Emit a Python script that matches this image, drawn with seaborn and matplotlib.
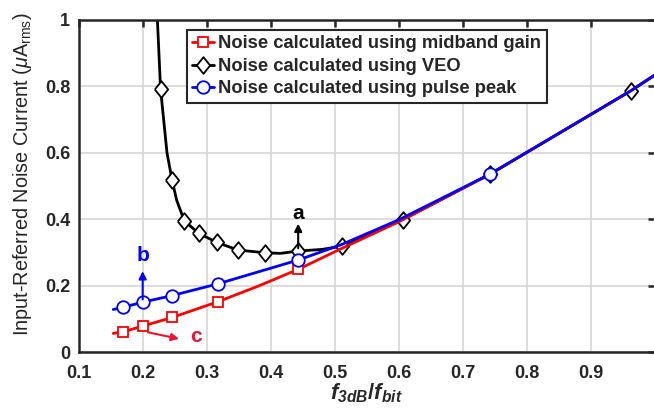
import numpy as np
import pandas as pd
import matplotlib
matplotlib.use('Agg')
import matplotlib.pyplot as plt
import seaborn as sns

# 데이터
red_x = [0.154, 0.170, 0.200, 0.246, 0.317, 0.380, 0.443, 0.510, 0.600, 0.743, 0.963, 1.000]
red_y = [0.056, 0.061, 0.078, 0.104, 0.151, 0.198, 0.249, 0.311, 0.392, 0.536, 0.787, 0.834]
red_mk = [1, 2, 3, 4, 6]

blk_x = [0.223, 0.228, 0.238, 0.246, 0.253, 0.265, 0.288, 0.316, 0.349, 0.391, 0.415, 0.443, 0.480, 0.512, 0.606, 0.743, 0.963, 1.000]
blk_y = [1.000, 0.791, 0.600, 0.517, 0.458, 0.395, 0.357, 0.330, 0.307, 0.299, 0.297, 0.304, 0.309, 0.319, 0.398, 0.536, 0.787, 0.834]
blk_mk = [1, 3, 5, 6, 7, 8, 9, 11, 13, 14, 15, 16]

blu_x = [0.154, 0.170, 0.200, 0.246, 0.317, 0.443, 0.510, 0.600, 0.743, 0.963, 1.000]
blu_y = [0.128, 0.135, 0.150, 0.170, 0.205, 0.277, 0.323, 0.398, 0.536, 0.787, 0.834]
blu_mk = [1, 2, 3, 4, 5, 8]

labels = ['Noise calculated using midband gain',
          'Noise calculated using VEO',
          'Noise calculated using pulse peak']
xticks = [0.1, 0.2, 0.3, 0.4, 0.5, 0.6, 0.7, 0.8, 0.9]
yticks = [0, 0.2, 0.4, 0.6, 0.8, 1]

sns.set_style('white')
plt.rcParams['font.family'] = ['Liberation Sans', 'DejaVu Sans']
plt.rcParams['mathtext.fontset'] = 'custom'
plt.rcParams['mathtext.rm'] = 'Liberation Sans'
plt.rcParams['mathtext.it'] = 'Liberation Sans:italic'
plt.rcParams['mathtext.bf'] = 'Liberation Sans:bold'
plt.rcParams['mathtext.bfit'] = 'Liberation Sans:bold:italic'

fig = plt.figure(figsize=(6.54, 4.19), dpi=100)
ax = fig.add_axes([0.1203, 0.1599, 0.8807, 0.7924])

# 마름모 마커 (가로:세로 = 0.8:1)
diamond = [(-0.8, 0), (0, 1), (0.8, 0), (0, -1), (-0.8, 0)]
series = [(red_x, red_y, red_mk, 'red', 's', 6.5),
          (blk_x, blk_y, blk_mk, 'black', diamond, 12),
          (blu_x, blu_y, blu_mk, 'blue', 'o', 9)]
# 검정 먼저, 빨강, 파랑 순서로 그리기 (파랑이 위)
order = [1, 0, 2]
handles = [None] * 3
for i in order:
    xs, ys, mk, c, m, ms = series[i]
    df = pd.DataFrame({'x': xs, 'y': ys})
    sns.lineplot(data=df, x='x', y='y', ax=ax, color=c, lw=2, sort=False,
                 estimator=None, marker=m, markersize=ms,
                 markevery=mk, markerfacecolor='white', markeredgecolor=c,
                 markeredgewidth=1.3, label=labels[i])
    handles[i] = ax.lines[-1]

ax.set_xlim(0.1, 1.0)
ax.set_ylim(0, 1)
ax.set_xticks(xticks)
ax.set_yticks(yticks)
ax.set_xticklabels(['0.1', '0.2', '0.3', '0.4', '0.5', '0.6', '0.7', '0.8', '0.9'])
ax.set_yticklabels(['0', '0.2', '0.4', '0.6', '0.8', '1'])
ax.grid(True, color='#d9d9d9', lw=1.3)
ax.set_axisbelow(True)
for s in ax.spines.values():
    s.set_color('#262626')
    s.set_linewidth(1.8)
ax.tick_params(direction='in', length=5, width=1.8, color='#262626',
               top=True, right=True, labelsize=13)
ax.tick_params(axis='x', pad=9)
ax.tick_params(axis='y', pad=6)
for t in ax.get_xticklabels() + ax.get_yticklabels():
    t.set_fontweight('bold')

ax.set_xlabel(r'$\mathbfit{f}_{\mathbfit{3dB}}\mathbf{/}\mathbfit{f}_{\mathbfit{bit}}$',
              fontsize=16, labelpad=0)
ax.set_ylabel(r'Input-Referred Noise Current ($\mathit{\mu}$A$_{\mathrm{rms}}$)',
              fontsize=14.3)
ax.yaxis.set_label_coords(-0.078, 0.536)

leg = ax.legend(handles=handles, labels=labels, loc='upper left',
                bbox_to_anchor=(0.188, 0.970), borderaxespad=0,
                fancybox=False, framealpha=1, edgecolor='#262626',
                handlelength=1.2, handletextpad=0.2, borderpad=0.3,
                labelspacing=0.3, prop={'weight': 'bold', 'size': 13.2})
leg.get_frame().set_linewidth(1.5)

# 주석 화살표 a, b, c
ax.annotate('', xy=(0.443, 0.395), xytext=(0.443, 0.304),
            arrowprops=dict(arrowstyle='-|>', color='black', lw=1.5, mutation_scale=11))
ax.text(0.443, 0.418, 'a', color='black', fontsize=15, fontweight='bold',
        ha='center', va='center')
ax.annotate('', xy=(0.200, 0.252), xytext=(0.200, 0.150),
            arrowprops=dict(arrowstyle='-|>', color='blue', lw=1.5, mutation_scale=11))
ax.text(0.200, 0.292, 'b', color='blue', fontsize=15, fontweight='bold',
        ha='center', va='center')
ax.annotate('', xy=(0.261, 0.038), xytext=(0.204, 0.061),
            arrowprops=dict(arrowstyle='-|>', color='#ee1133', lw=1.5, mutation_scale=11))
ax.text(0.284, 0.046, 'c', color='#ee1133', fontsize=15, fontweight='bold',
        ha='center', va='center')

plt.savefig('out.png', dpi=100)
